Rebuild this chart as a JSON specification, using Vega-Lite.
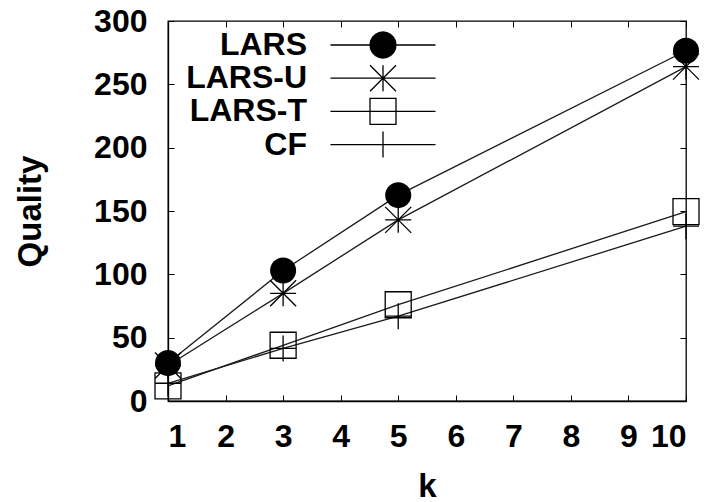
{
  "$schema": "https://vega.github.io/schema/vega-lite/v6.json",
  "autosize": "none",
  "width": 518,
  "height": 380,
  "padding": {"left": 168, "top": 21, "right": 28, "bottom": 101},
  "background": "white",
  "config": {
    "font": "Liberation Sans",
    "view": {"stroke": "black", "strokeWidth": 1.3},
    "axis": {
      "grid": false,
      "domainColor": "black",
      "domainWidth": 1.3,
      "tickColor": "black",
      "tickWidth": 1,
      "labelColor": "black",
      "labelFont": "Liberation Sans",
      "labelFontWeight": "bold",
      "labelFontSize": 32,
      "titleColor": "black",
      "titleFont": "Liberation Sans",
      "titleFontWeight": "bold",
      "titleFontSize": 33
    }
  },
  "data": {
    "values": [
      {"k": 1, "quality": 30, "series": "LARS"},
      {"k": 3, "quality": 103, "series": "LARS"},
      {"k": 5, "quality": 162.5, "series": "LARS"},
      {"k": 10, "quality": 276.5, "series": "LARS"},
      {"k": 1, "quality": 28, "series": "LARS-U"},
      {"k": 3, "quality": 85, "series": "LARS-U"},
      {"k": 5, "quality": 143, "series": "LARS-U"},
      {"k": 10, "quality": 264, "series": "LARS-U"},
      {"k": 1, "quality": 12, "series": "LARS-T"},
      {"k": 3, "quality": 44, "series": "LARS-T"},
      {"k": 5, "quality": 76, "series": "LARS-T"},
      {"k": 10, "quality": 149.5, "series": "LARS-T"},
      {"k": 1, "quality": 14, "series": "CF"},
      {"k": 3, "quality": 41.5, "series": "CF"},
      {"k": 5, "quality": 67, "series": "CF"},
      {"k": 10, "quality": 138, "series": "CF"}
    ]
  },
  "layer": [
    {
      "mark": {"type": "line", "color": "#1a1a1a", "strokeWidth": 1.3},
      "encoding": {
        "x": {
          "field": "k", "type": "quantitative",
          "scale": {"domain": [1, 10], "nice": false, "zero": false},
          "axis": {
            "orient": "bottom", "values": [1,2,3,4,5,6,7,8,9,10],
            "tickSize": -6, "labelPadding": 26, "title": "k",
            "titleX": 259, "titleY": 95, "titleBaseline": "alphabetic", "titleAlign": "center"
          }
        },
        "y": {
          "field": "quality", "type": "quantitative",
          "scale": {"domain": [0, 300], "nice": false},
          "axis": {
            "orient": "left", "values": [0,50,100,150,200,250,300],
            "tickSize": -6, "labelPadding": 27, "title": "Quality",
            "titleX": -128, "titleY": 190, "titleBaseline": "alphabetic", "titleAlign": "center", "titleAngle": -90
          }
        },
        "detail": {"field": "series"}
      }
    },
    {
      "transform": [{"filter": "datum.series == 'LARS'"}],
      "mark": {"type": "point", "shape": "circle", "filled": true, "color": "black", "size": 676, "opacity": 1},
      "encoding": {
        "x": {
          "field": "k", "type": "quantitative",
          "axis": {"orient": "top", "values": [1,2,3,4,5,6,7,8,9,10], "labels": false, "title": null, "tickSize": -6, "domain": false}
        },
        "y": {
          "field": "quality", "type": "quantitative",
          "axis": {"orient": "right", "values": [0,50,100,150,200,250,300], "labels": false, "title": null, "tickSize": -6, "domain": false}
        }
      }
    },
    {
      "transform": [{"filter": "datum.series != 'LARS'"}],
      "mark": {"type": "point", "filled": false, "stroke": "black", "strokeWidth": 1.3, "size": 676, "opacity": 1},
      "encoding": {
        "x": {"field": "k", "type": "quantitative", "axis": null},
        "y": {"field": "quality", "type": "quantitative", "axis": null},
        "shape": {
          "field": "series", "type": "nominal",
          "scale": {
            "domain": ["LARS-U", "LARS-T", "CF"],
            "range": ["M-1,0L1,0M0,-1L0,1M-1,-1L1,1M-1,1L1,-1", "square", "M-1,0L1,0M0,-1L0,1"]
          },
          "legend": null
        }
      }
    },
    {
      "mark": {"type": "point", "filled": false, "stroke": "black", "strokeWidth": 1.3, "opacity": 0},
      "encoding": {
        "x": {"field": "k", "type": "quantitative", "axis": null},
        "y": {"field": "quality", "type": "quantitative", "axis": null},
        "shape": {
          "field": "series", "type": "nominal",
          "scale": {
            "domain": ["LARS", "LARS-U", "LARS-T", "CF"],
            "range": [
              "M-4.04,0L4.04,0M1,0L0.951,0.309L0.809,0.588L0.588,0.809L0.309,0.951L0,1L-0.309,0.951L-0.588,0.809L-0.809,0.588L-0.951,0.309L-1,0L-0.951,-0.309L-0.809,-0.588L-0.588,-0.809L-0.309,-0.951L0,-1L0.309,-0.951L0.588,-0.809L0.809,-0.588L0.951,-0.309ZM-0.312,-0.95L0.312,-0.95M-0.527,-0.85L0.527,-0.85M-0.661,-0.75L0.661,-0.75M-0.76,-0.65L0.76,-0.65M-0.835,-0.55L0.835,-0.55M-0.893,-0.45L0.893,-0.45M-0.937,-0.35L0.937,-0.35M-0.968,-0.25L0.968,-0.25M-0.989,-0.15L0.989,-0.15M-0.999,-0.05L0.999,-0.05M-0.999,0.05L0.999,0.05M-0.989,0.15L0.989,0.15M-0.968,0.25L0.968,0.25M-0.937,0.35L0.937,0.35M-0.893,0.45L0.893,0.45M-0.835,0.55L0.835,0.55M-0.76,0.65L0.76,0.65M-0.661,0.75L0.661,0.75M-0.527,0.85L0.527,0.85M-0.312,0.95L0.312,0.95",
              "M-4.04,0L4.04,0M0,-1L0,1M-1,-1L1,1M-1,1L1,-1",
              "M-4.04,0L4.04,0M-1,-1L1,-1L1,1L-1,1Z",
              "M-4.04,0L4.04,0M0,-1L0,1"
            ]
          },
          "legend": {
            "orient": "none",
            "legendX": 199,
            "legendY": 8,
            "title": null,
            "direction": "vertical",
            "symbolSize": 676,
            "symbolFillColor": "transparent",
            "symbolStrokeColor": "black",
            "symbolStrokeWidth": 1.3,
            "symbolOpacity": 1,
            "labelFont": "Liberation Sans",
            "labelFontWeight": "bold",
            "labelFontSize": 32,
            "labelColor": "black",
            "labelAlign": "right",
            "labelOffset": -92,
            "labelLimit": 0,
            "rowPadding": 1.2
          }
        }
      }
    }
  ],
  "resolve": {
    "scale": {"shape": "independent"},
    "axis": {"x": "independent", "y": "independent"},
    "legend": {"shape": "independent"}
  }
}
